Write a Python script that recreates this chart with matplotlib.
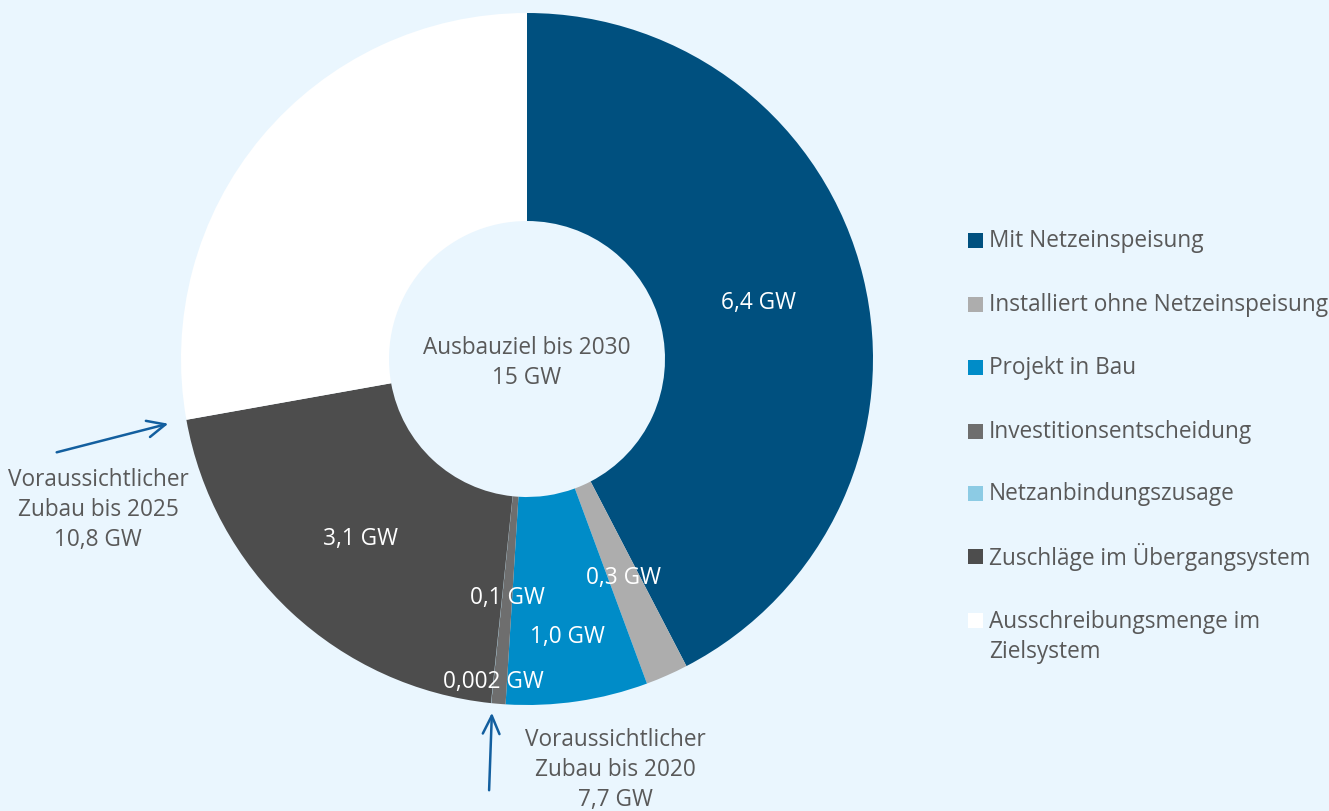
import numpy as np
import matplotlib.pyplot as plt
from matplotlib.patches import Rectangle

plt.rcParams['font.family'] = ['Open Sans', 'DejaVu Sans']

categories = ["Mit Netzeinspeisung", "Installiert ohne Netzeinspeisung", "Projekt in Bau",
              "Investitionsentscheidung", "Netzanbindungszusage",
              "Zuschläge im Übergangsystem", "Ausschreibungsmenge im\nZielsystem"]
values = [6.4, 0.3, 1.0, 0.1, 0.002, 3.1, 4.2]
value_labels = ["6,4 GW", "0,3 GW", "1,0 GW", "0,1 GW", "0,002 GW", "3,1 GW", "4,2 GW"]
colors = ["#00507F", "#ADADAD", "#008CC8", "#6E6E6E", "#8CCBE4", "#4D4D4D", "#FFFFFF"]
center_text = "Ausbauziel bis 2030\n15 GW"
note_2025 = "Voraussichtlicher\nZubau bis 2025\n10,8 GW"
note_2020 = "Voraussichtlicher\nZubau bis 2020\n7,7 GW"

BG = "#EAF6FE"
TXT = "#595959"
FS = 16.3
W, H = 1329, 812
CX, CY, R = 527, 360, 346


def px(x, y):
    # pixel position -> data coords (pie radius = 1)
    return (x - CX) / R, (CY - y) / R


fig = plt.figure(figsize=(W / 100, H / 100), dpi=100, facecolor=BG)
ax = fig.add_axes([0, 0, 1, 1])
ax.set_facecolor(BG)

wedges, _ = ax.pie(values, colors=colors, startangle=90, counterclock=False, radius=1,
                   wedgeprops=dict(width=1 - 138 / R, linewidth=0))
ax.set_xlim(-CX / R, (W - CX) / R)
ax.set_ylim(-(H - CY) / R, CY / R)
ax.set_aspect('equal')
ax.axis('off')

# value labels inside the ring
label_r = [0.69, 0.69, 0.81, 0.69, 0.935, 0.705, 0.69]
for w, lab, r in zip(wedges, value_labels, label_r):
    ang = np.deg2rad((w.theta1 + w.theta2) / 2)
    ax.text(r * np.cos(ang), r * np.sin(ang), lab, ha='center', va='center',
            color='white', fontsize=FS)

ax.text(0, px(0, 363)[1], center_text, ha='center', va='center', color=TXT,
        fontsize=FS, linespacing=1.35)

# side notes with arrows
arrow_kw = dict(arrowstyle='->,head_length=1.3,head_width=0.6', color='#135F9F', lw=1.8)
ax.annotate('', xy=px(171, 424), xytext=px(54, 454), arrowprops=arrow_kw)
ax.annotate('', xy=px(492, 711), xytext=px(489, 794), arrowprops=arrow_kw)
ax.text(*px(98, 510), note_2025, ha='center', va='center', color=TXT,
        fontsize=FS, linespacing=1.35)
ax.text(*px(615, 770), note_2020, ha='center', va='center', color=TXT,
        fontsize=FS, linespacing=1.35)

# legend
row_y = [241, 305, 368, 432, 494, 557, 621]
for cat, col, y in zip(categories, colors, row_y):
    fig.patches.append(Rectangle((968 / W, 1 - (y + 8) / H), 15 / W, 15 / H,
                                 transform=fig.transFigure, facecolor=col,
                                 edgecolor='none'))
    if '\n' in cat:
        fig.text(989 / W, 1 - (y + 16) / H, cat, ha='left', va='center',
                 color=TXT, fontsize=FS, linespacing=1.35)
    else:
        fig.text(989 / W, 1 - y / H, cat, ha='left', va='center',
                 color=TXT, fontsize=FS)

fig.savefig("out.png", dpi=100, facecolor=BG)
